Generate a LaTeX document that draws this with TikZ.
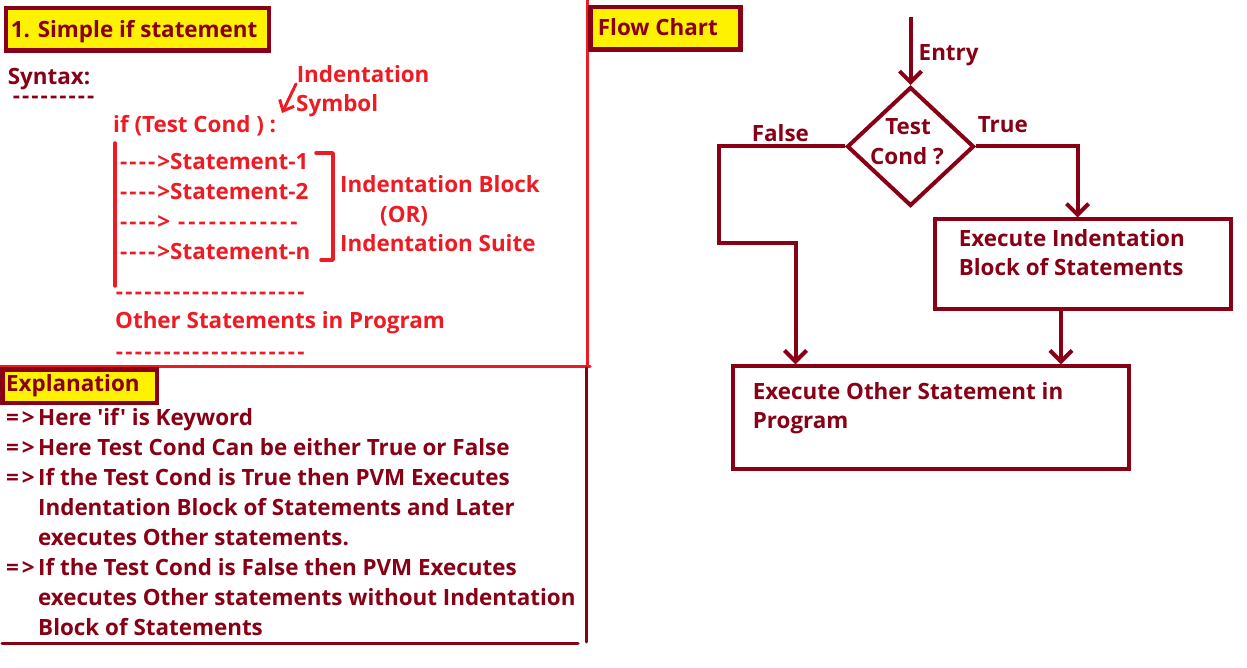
\documentclass[tikz,border=0pt]{standalone}
\usepackage{fontspec}
\usetikzlibrary{shapes.geometric,arrows.meta}
\newfontfamily\uifont{Open Sans}
\definecolor{wine}{HTML}{880015}
\definecolor{paintred}{HTML}{ED1C24}
\definecolor{paintyellow}{HTML}{FFF200}
% a row of n hyphens, each set in a box of the given width
\newcommand\dsh[2]{\foreach \k in {1,...,#1}{\makebox[#2][l]{-}}}
% the spaced "=>" bullet
\newcommand\bul{=\hspace{3pt}>}

\begin{document}
\begin{tikzpicture}[x=1pt,y=-1pt,
  lbl/.style={inner sep=0pt, anchor=base west, font=\uifont\bfseries\fontsize{22.4}{26}\selectfont},
  wtxt/.style={lbl, text=wine},
  rtxt/.style={lbl, text=paintred},
  dashrow/.style={text height=9pt, text depth=0pt},
  tagbox/.style={draw=wine, line width=4.5pt, fill=paintyellow, inner sep=0pt, anchor=north west},
  rule/.style={line width=3pt, line cap=round},
  flowline/.style={draw=wine, line width=4pt},
  barb/.style={-{Straight Barb[length=11pt,width=22pt]}},
  procbox/.style={draw=wine, line width=4pt, inner sep=0pt},
]
\useasboundingbox[fill=white] (0,0) rectangle (1247,668);

% ---------- panel dividers ----------
\draw[rule, paintred] (0,366) -- (590,366);
\draw[rule, paintred] (587.5,0) -- (587.5,366);
\draw[rule, wine] (586,368) -- (586,642);
\draw[rule, wine] (2,643) -- (578,643);

% ---------- syntax panel ----------
\node[tagbox, minimum width=262.7pt, minimum height=42.5pt] (tag1) at (3.8,6) {};
\node[wtxt] (tag1txt) at (10.7,38) {1. Simple if statement};
\node[wtxt] (syn) at (7.7,85) {Syntax:};
\node[wtxt, dashrow] (synline) at (12.6,104) {\dsh{9}{9.3pt}};

\node[rtxt] (indlbl1) at (296.6,83) {Indentation};
\node[rtxt] (indlbl2) at (296,112) {Symbol};
\coordinate (symfrom) at (296,84);
\coordinate (symto) at (282,113);
\draw[paintred, line width=3pt, line cap=round, -{Straight Barb[length=9pt,width=16pt]}] (symfrom) -- (symto);

\node[rtxt] (ifline) at (113,133) {if (Test Cond ) :};
\coordinate (bartop) at (115,143);
\coordinate (barbot) at (115,286);
\draw[paintred, line width=3.5pt, line cap=round] (bartop) -- (barbot);

\node[rtxt] (st1) at (120,170) {\dsh{4}{9.3pt}>Statement-1};
\node[rtxt] (st2) at (120,200) {\dsh{4}{9.3pt}>Statement-2};
\node[rtxt] (st3) at (120,230) {\dsh{4}{9.3pt}>\hspace{8pt}\dsh{12}{10.2pt}};
\node[rtxt] (stn) at (120,260) {\dsh{4}{9.3pt}>Statement-n};

\coordinate (br1) at (316,153);
\coordinate (br2) at (333,153);
\coordinate (br3) at (333,260);
\coordinate (br4) at (321,260);
\draw[paintred, line width=3.5pt, line cap=round, line join=round] (br1) -- (br2) -- (br3) -- (br4);

\node[rtxt] (blk1) at (340,193) {Indentation Block};
\node[rtxt] (blk2) at (380,223) {(OR)};
\node[rtxt] (blk3) at (340,252) {Indentation Suite};

\node[rtxt, dashrow] (sep1) at (115.6,299.5) {\dsh{20}{9.55pt}};
\node[rtxt] (other) at (115,328) {Other Statements in Program};
\node[rtxt, dashrow] (sep2) at (115.6,359.5) {\dsh{20}{9.55pt}};

% ---------- explanation panel ----------
\node[tagbox, minimum width=154.5pt, minimum height=33.5pt] (tag2) at (0,367) {};
\node[wtxt] (tag2txt) at (6,391) {Explanation};

\node[wtxt] (e1a) at (6,425) {\bul};
\node[wtxt] (e1) at (38,425) {Here 'if' is Keyword};
\node[wtxt] (e2a) at (6,455) {\bul};
\node[wtxt] (e2) at (38,455) {Here Test Cond Can be either True or False};
\node[wtxt] (e3a) at (6,485) {\bul};
\node[wtxt] (e3) at (38,485) {If the Test Cond is True then PVM Executes};
\node[wtxt] (e4) at (38,515) {Indentation Block of Statements and Later};
\node[wtxt] (e5) at (38,545) {executes Other statements.};
\node[wtxt] (e6a) at (6,575) {\bul};
\node[wtxt] (e6) at (38,575) {If the Test Cond is False then PVM Executes};
\node[wtxt] (e7) at (38,605) {executes Other statements without Indentation};
\node[wtxt] (e8) at (38,635) {Block of Statements};

% ---------- flow chart panel ----------
\node[tagbox, minimum width=150pt, minimum height=42.5pt] (tag3) at (588,5) {};
\node[wtxt] (tag3txt) at (597.7,36) {Flow Chart};

\node[diamond, draw=wine, line width=4pt, inner sep=0pt,
      minimum width=127pt, minimum height=119pt] (cond) at (910.5,146.5) {};
\node[wtxt, anchor=base] (condt1) at (908,135) {Test};
\node[wtxt] (condt2) at (870,165) {Cond ?};

\coordinate (entry) at (910.5,17);
\draw[flowline, barb] (entry) -- (cond.north);
\node[wtxt] (entrylbl) at (918.5,61) {Entry};

\node[procbox, minimum width=296pt, minimum height=89pt] (indbox) at (1083,264) {};
\node[wtxt] (indbox1) at (958.6,247) {Execute Indentation};
\node[wtxt] (indbox2) at (958.6,276) {Block of Statements};

\node[procbox, minimum width=396.3pt, minimum height=103pt] (othbox) at (930.9,417.8) {};
\node[wtxt] (othbox1) at (752.7,399) {Execute Other Statement in};
\node[wtxt] (othbox2) at (752.7,428) {Program};

% false branch
\coordinate (f1) at (718.5,146.5);
\coordinate (f2) at (718.5,243);
\coordinate (f3) at (795.5,243);
\draw[flowline, barb, line join=miter] (cond.west) -- (f1) -- (f2) -- (f3) -- (f3 |- othbox.north);
\node[wtxt] (falselbl) at (751.7,142) {False};

% true branch
\coordinate (t1) at (1077.5,146.5);
\draw[flowline, barb, line join=miter] (cond.east) -- (t1) -- (t1 |- indbox.north);
\node[wtxt] (truelbl) at (977.6,133) {True};

% from the block to the rest of the program
\coordinate (tap) at (1061,308.5);
\draw[flowline, barb] (tap) -- (tap |- othbox.north);
\end{tikzpicture}
\end{document}
